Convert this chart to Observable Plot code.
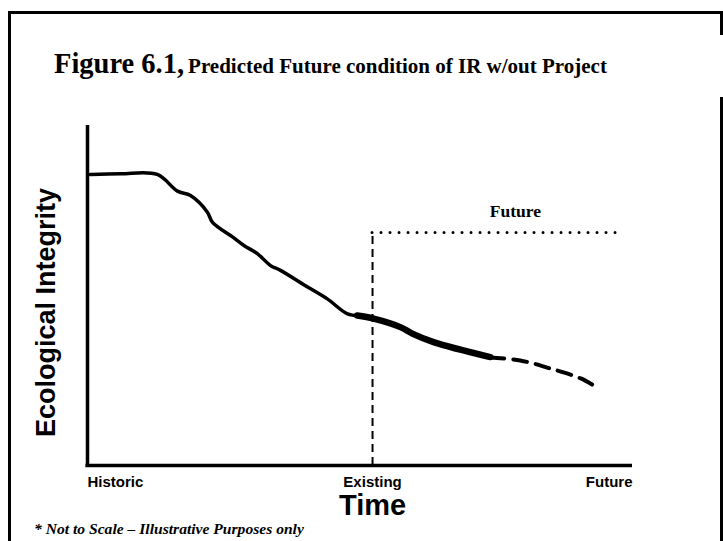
<!DOCTYPE html>
<html><head><meta charset="utf-8">
<script src="https://cdn.jsdelivr.net/npm/d3@7"></script>
<script src="https://cdn.jsdelivr.net/npm/@observablehq/plot@0.6"></script>
<style>
body{margin:0;background:#fff;}
#wrap{position:relative;width:723px;height:541px;overflow:hidden;background:#fff;}
.b{position:absolute;background:#000;}
#title{position:absolute;left:54px;top:50px;font-family:"Liberation Serif";font-weight:bold;white-space:nowrap;color:#000;line-height:1;}
#note{position:absolute;left:34px;top:520px;font-family:"Liberation Serif";font-weight:bold;font-style:italic;font-size:15.6px;white-space:nowrap;}
#chart{position:absolute;left:0;top:0;}
</style></head><body>
<div id="wrap">
<div class="b" style="left:8px;top:11px;width:3px;height:530px"></div>
<div class="b" style="left:8px;top:11px;width:715px;height:3px"></div>
<div class="b" style="left:720px;top:11px;width:3px;height:24px"></div>
<div class="b" style="left:720px;top:97px;width:3px;height:444px"></div>
<div id="title"><span style="font-size:28.5px">Figure 6.1,</span> <span style="font-size:21px">Predicted Future condition of IR w/out Project</span></div>
<div id="chart"></div>
<div id="note">* Not to Scale – Illustrative Purposes only</div>
</div>
<script>
// Historic decline (thin line)
const pastX = [0.5, 6.1, 12.8, 16.5, 18.9, 22.0, 22.9, 26.8, 28.7, 31.1, 33.6, 35.4, 40.3, 44.0, 47.7, 49.7];
const pastY = [85.6, 85.8, 85.6, 80.7, 79.4, 74.5, 71.6, 67.0, 64.7, 62.4, 58.8, 57.4, 52.6, 49.0, 44.6, 44.1];
// Existing condition (thick line)
const existX = [49.5, 52.5, 57.4, 59.6, 63.5, 73.9];
const existY = [44.1, 43.2, 40.7, 38.8, 36.3, 31.9];
// Predicted future without project (dashed)
const futX = [73.9, 79.4, 85.0, 90.5, 93.2];
const futY = [31.8, 30.9, 28.5, 25.6, 23.2];
// Reference levels
const existingTime = 52.3;
const futureLevel = 68.5;
const futureEnd = 96.9;
const futureLabel = "Future";
const futureLabelX = 78.5;
// Tick labels
const tickLabels = ["Historic", "Existing", "Future"];
const tickValues = [0, 52.3, 100];
const tickAnchors = ["start", "middle", "end"];

const toPts = (xs, ys) => xs.map((x, i) => ({x, y: ys[i]}));
const past = toPts(pastX, pastY);
const exist = toPts(existX, existY);
const fut = toPts(futX, futY);

const sans = "Liberation Sans, Arial, sans-serif";
const serif = "Liberation Serif, Times New Roman, serif";

const tickMarks = tickLabels.map((t, i) => Plot.text([{x: tickValues[i], y: 0, t}], {
  x: "x", y: "y", text: "t", textAnchor: tickAnchors[i], lineAnchor: "top", dy: 11,
  fontFamily: sans, fontWeight: "bold", fontSize: 15, fill: "#000"
}));

const chart = Plot.plot({
  width: 723, height: 541,
  marginLeft: 87, marginRight: 91, marginTop: 125, marginBottom: 76,
  x: {domain: [0, 100], axis: null},
  y: {domain: [0, 100], axis: null},
  style: {background: "transparent"},
  marks: [
    Plot.ruleX([0], {y1: 0, y2: 100, strokeWidth: 3.5, stroke: "#000"}),
    Plot.ruleY([0], {x1: -0.3, x2: 100, strokeWidth: 3.5, stroke: "#000"}),
    Plot.ruleX([existingTime], {y1: 0, y2: futureLevel, strokeWidth: 2, stroke: "#000", strokeDasharray: "8,5"}),
    Plot.ruleY([futureLevel], {x1: existingTime, x2: futureEnd, strokeWidth: 3, stroke: "#000", strokeDasharray: "0,9", strokeLinecap: "round"}),
    Plot.line(past, {x: "x", y: "y", strokeWidth: 3.5, stroke: "#000", curve: "catmull-rom"}),
    Plot.line(exist, {x: "x", y: "y", strokeWidth: 6.5, stroke: "#000", curve: "catmull-rom"}),
    Plot.line(fut, {x: "x", y: "y", strokeWidth: 4, stroke: "#000", strokeDasharray: "14,9", curve: "catmull-rom"}),
    Plot.text([{x: futureLabelX, y: futureLevel, t: futureLabel}], {x: "x", y: "y", text: "t", dy: -21, fontFamily: serif, fontWeight: "bold", fontSize: 17.5, fill: "#000"}),
    ...tickMarks,
    Plot.text([{x: tickValues[1], y: 0, t: "Time"}], {x: "x", y: "y", text: "t", lineAnchor: "top", dy: 29, fontFamily: sans, fontWeight: "bold", fontSize: 29, fill: "#000"}),
    Plot.text(["Ecological Integrity"], {frameAnchor: "left", textAnchor: "middle", rotate: -90, dx: -41, dy: 17, fontFamily: sans, fontWeight: "bold", fontSize: 27, fill: "#000"})
  ]
});
document.getElementById("chart").appendChild(chart);
</script>
</body></html>
